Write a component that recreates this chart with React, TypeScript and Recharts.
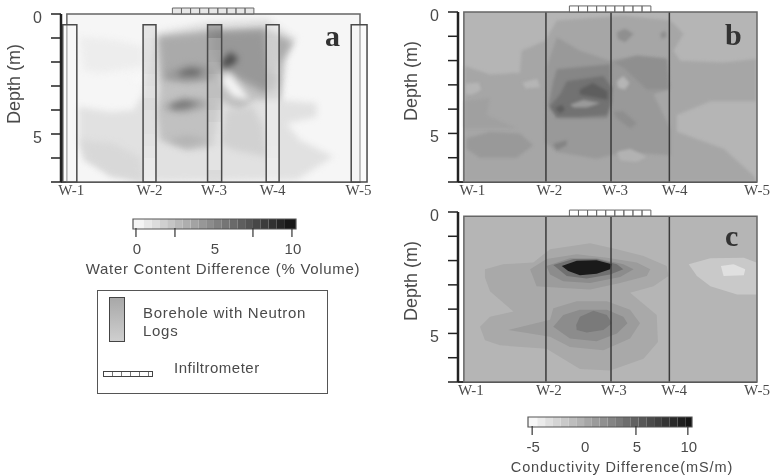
import React from "react";
import { ScatterChart, Scatter, XAxis, YAxis, ReferenceArea, ReferenceLine, Curve } from "recharts";

type Pt = [number, number];
type Contour = [number, Pt[]]; // level, ring of [x %, depth m]

const wellNames = ["W-1", "W-2", "W-3", "W-4", "W-5"];
const wellX = [28, 50.2, 70.1];
const depthTicks = [0, 1, 2, 3, 4, 5, 6, 7];
const depthLabels = [0, 5];
const infilEdges = [36, 39.1, 42.2, 45.3, 48.4, 51.5, 54.6, 57.7, 60.8, 63.8];

// neutron logs, panel a
const logDepths = [0.45, 1, 1.5, 2, 2.5, 3, 3.5, 4, 4.5, 5, 5.5, 6, 6.5, 7];
const logW1 = [0, 0, 0, 0, 0, 0, 0, 0, 0, 0, 0, 0, 0];
const logW2 = [1.6, 1.8, 1.9, 1.8, 1.4, 1.2, 1.6, 1.2, 1.2, 0.9, 0.6, 0.3, 0];
const logW3 = [6, 4, 3.4, 3, 2.6, 2.6, 2.2, 1.5, 1, 0.9, 0.8, 0.8, 1.6];
const logW4 = [0.5, 0.3, 0.3, 0.3, 0.4, 0.5, 0.4, 0.3, 0.3, 0.3, 0.2, 0, 0.2];
const logW5 = [0, 0, 0, 0, 0, 0, 0, 0, 0, 0, 0, 0, 0];
const wellLeft = [-1.4, 26, 48, 68, 97];
const wellRight = [3.4, 30.4, 52.8, 72.4, 102.4];

const contoursA: Contour[] = [
  [0.1, [[0, 0], [100, 0], [100, 7], [0, 7]]],
  [0.5, [[4.5, 0.94], [17, 1.08], [26.1, 1.36], [26.1, 2.19], [11.4, 2.47], [5.7, 2.33]]],
  [0, [[20.5, 2.68], [26.1, 2.54], [30.7, 2.75], [26.1, 2.89]]],
  [1, [[4, 3.86], [14.8, 4.07], [22.7, 4], [26.1, 3.31], [30.7, 0.74], [47.7, 0.32], [68.2, 0.18], [78.4, 1.01], [75, 1.92], [73.3, 3.58], [85.2, 3.72], [85.2, 4.28], [75, 4.56], [79.5, 5.25], [90.9, 5.94], [78.4, 6.92], [25, 7], [5.7, 6.08], [4, 5.25]]],
  [1.4, [[4.5, 5.25], [15.9, 5.39], [25, 5.97], [26.1, 7], [14.8, 6.78], [6.8, 6.08]]],
  [2.4, [[30.7, 0.94], [47.7, 0.67], [67, 0.53], [77.3, 1.15], [73.9, 1.92], [72.7, 3.58], [63.6, 3.58], [59.1, 4.14], [52.3, 3.58], [50, 5.53], [40.9, 5.67], [31.8, 5.25], [30.7, 4.14], [31.8, 3.17]]],
  [1.7, [[54.5, 4], [63.6, 3.86], [67, 4.69], [68.2, 5.94], [56.8, 5.67], [52.3, 5.39]]],
  [3.4, [[31.8, 1], [47.7, 0.81], [67, 0.67], [76.1, 1.22], [72.2, 2.06], [71.6, 3.17], [66.5, 3.31], [59.1, 2.75], [55.7, 2.33], [50, 2.47], [50, 2.75], [40.9, 2.82], [32.9, 2.75]]],
  [4.2, [[50, 0.81], [67, 0.74], [68.2, 2.19], [71.6, 2.75], [68.2, 3.17], [59.1, 2.61], [54.5, 2.19], [50, 1.78]]],
  [7.4, [[52.3, 2.06], [55.7, 1.57], [58.5, 1.85], [56.8, 2.13], [53.4, 2.26]]],
  [4.1, [[34.1, 2.4], [42, 2.06], [50, 2.19], [50, 2.68], [40.9, 2.82], [34.1, 2.68]]],
  [6.2, [[37.5, 2.47], [42, 2.26], [46.6, 2.36], [44.3, 2.58], [39.2, 2.58]]],
  [3.5, [[33, 3.79], [39.8, 3.44], [47.7, 3.58], [47.7, 3.92], [39.8, 4.14], [33.5, 4]]],
  [5.8, [[35.2, 3.79], [39.8, 3.63], [45.5, 3.72], [40.9, 3.92], [36.4, 3.97]]],
  [3, [[34.1, 5.25], [40.9, 5.04], [48.9, 5.25], [40.9, 5.53]]],
  [0.2, [[53.4, 2.54], [55.7, 2.54], [59.1, 3.03], [62.5, 3.58], [56.8, 3.44], [52.8, 2.89]]],
];

const contoursB: Contour[] = [
  [-0.6, [[0, 0], [100, 0], [100, 7], [0, 7]]],
  [0.4, [[0.3, 2.22], [8.9, 2.57], [19.1, 2.5], [19.7, 1.6], [27.7, 1.18], [31.7, 0.35], [54.4, 0.14], [70.4, 0.35], [74.9, 0.9], [71.5, 1.6], [73.8, 2.01], [88.6, 2.08], [99.8, 1.94], [99.8, 3.68], [84.1, 3.68], [72.7, 4.24], [72.7, 4.93], [88.6, 5.63], [98.9, 6.74], [99.8, 7], [0, 7]]],
  [-0.6, [[0.5, 2.95], [5, 2.9], [6, 3.2], [3, 3.4], [0.5, 3.4]]],
  [-0.6, [[20, 2.9], [25, 2.75], [26, 3.1], [21, 3.15]]],
  [0.8, [[0.3, 3.68], [8.9, 3.54], [7.7, 4.24], [18, 4.79], [0.3, 4.79]]],
  [1.25, [[0.9, 5.21], [8.9, 4.93], [19.1, 5], [23.7, 5.49], [18, 6], [5.5, 6], [0.9, 5.63]]],
  [1.25, [[28.2, 2.29], [31.7, 1.04], [39.6, 1.6], [49.9, 2.01], [59, 1.81], [69.2, 1.94], [70.4, 3.13], [64.7, 3.4], [70.4, 4.79], [70.4, 5.9], [54.4, 5.76], [45.3, 6.04], [31.7, 5.76], [27.7, 5.35]]],
  [1.9, [[51, 2.08], [59, 1.81], [69.2, 1.94], [69.8, 3.19], [62.4, 3.19], [54.4, 2.29]]],
  [2, [[51, 4.1], [54.4, 4.1], [59, 4.58], [56.7, 4.79], [52.2, 4.38]]],
  [2.5, [[31.7, 2.36], [49.9, 2.15], [50.5, 3.68], [48.8, 4.38], [31.7, 4.38], [28.9, 3.82], [30.5, 2.85]]],
  [3.8, [[35.1, 2.85], [47.6, 2.64], [50.5, 3.13], [49.9, 3.82], [48.8, 4.24], [39.6, 4.31], [31.7, 4.31], [29.2, 3.89], [32.8, 3.4]]],
  [5.1, [[39.6, 3.19], [44, 2.92], [49, 3.26], [49, 3.61], [39.6, 3.4]]],
  [5.2, [[31.1, 3.96], [33.4, 3.82], [34.5, 4.03], [32.8, 4.17]]],
  [1.2, [[36.2, 3.82], [40.8, 3.61], [46.5, 3.75], [42, 3.93], [37.5, 3.93]]],
  [1.9, [[52.2, 0.83], [55, 0.69], [57.9, 0.9], [55, 1.25], [52.6, 1.11]]],
  [1.9, [[67, 0.9], [68.7, 0.76], [69.2, 1.01], [67.5, 1.11]]],
  [-0.6, [[52.2, 2.85], [54.4, 2.64], [56.5, 2.92], [55, 3.19], [52.6, 3.13]]],
  [-0.4, [[52.2, 5.76], [56.7, 5.63], [62.4, 5.97], [59, 6.18], [53.3, 6.11]]],
  [2.6, [[30.5, 5.42], [35.1, 5.28], [35.1, 5.49], [31.7, 5.69]]],
];

const contoursC: Contour[] = [
  [-0.6, [[0, 0.17], [100, 0.17], [100, 7], [0, 7]]],
  [0.2, [[7.2, 2.36], [13.4, 2.15], [23.7, 2.08], [29.4, 1.53], [43.1, 1.29], [52.2, 1.53], [61.3, 1.81], [69.2, 2.22], [69.8, 2.64], [64.7, 3.06], [56.7, 3.33], [65.8, 4.24], [66.2, 5.35], [61.3, 6.04], [49.9, 6.53], [39.6, 6.46], [28.2, 5.63], [12.3, 5.49], [7.2, 5.28], [5.5, 4.72], [8.9, 4.31], [16.9, 4.1], [8.9, 3.26], [7.2, 2.71]]],
  [1.05, [[22.6, 2.36], [28.2, 1.94], [38.5, 1.74], [48.8, 1.88], [59, 2.08], [63.6, 2.36], [62.4, 2.64], [53.3, 2.92], [43.1, 3.19], [33.9, 3.13], [24.8, 3.06]]],
  [2.1, [[28.2, 2.22], [36.2, 1.9], [45.3, 1.9], [54.4, 2.15], [57.9, 2.36], [53.3, 2.68], [43.1, 2.92], [33.9, 2.85], [29.4, 2.57]]],
  [3.95, [[30.5, 2.18], [37.4, 1.94], [45.3, 1.94], [52.2, 2.15], [54.4, 2.36], [49.9, 2.57], [41.9, 2.74], [35.1, 2.64]]],
  [9.6, [[33.4, 2.22], [38.5, 2.01], [45.3, 1.99], [50.5, 2.15], [49.9, 2.36], [45.3, 2.54], [39.6, 2.6], [35.6, 2.43]]],
  [1.05, [[15.1, 4.86], [29.4, 4.44], [30.5, 3.96], [38.5, 3.68], [48.8, 3.68], [56.7, 4.03], [60.1, 4.58], [56.7, 5.21], [47.6, 5.69], [36.2, 5.56], [29.4, 5.14], [22.6, 5]]],
  [2.1, [[30.5, 4.72], [33.9, 4.24], [39.6, 4.03], [48.8, 4.03], [54.4, 4.31], [55.8, 4.58], [52.2, 5], [45.3, 5.32], [36.2, 5.21]]],
  [3.3, [[38.3, 4.65], [39.6, 4.31], [44.2, 4.07], [48.8, 4.24], [50.5, 4.58], [47.6, 4.86], [41.9, 4.96], [38.5, 4.86]]],
  [-1.9, [[76.7, 2.15], [84.1, 1.9], [95.5, 1.88], [99.8, 2.08], [99.8, 3.4], [93.2, 3.4], [84.1, 3.06], [79.5, 2.64]]],
  [-3.4, [[87.7, 2.22], [92, 2.15], [96, 2.36], [95.5, 2.6], [88.6, 2.64]]],
];

// tick label positions along the transect
const tickPosA = [1.5, 28.2, 50.2, 70.2, 99.5];
const tickPosB = [2.9, 29.2, 51.6, 71.9, 100];
const tickPosC = [2.4, 29, 51.2, 71.7, 100];

const waterBarEdges = [-0.19, 0.5, 1, 1.5, 2, 2.5, 3, 3.5, 4, 4.5, 5, 5.5, 6, 6.5, 7, 7.5, 8, 8.5, 9, 9.5, 10.26];
const condBarEdges = [-5.4, -4.5, -3.75, -3, -2.25, -1.5, -0.75, 0, 0.75, 1.5, 2.25, 3, 3.75, 4.5, 5.25, 6, 6.75, 7.5, 8.25, 9, 9.75, 10.4];

const INK = "#4a4a4a";
const SANS = "'Liberation Sans', Arial, sans-serif";
const SERIF = "'Liberation Serif', serif";

// grey ramps of the two colour bars
const grayWater = (v: number) => {
  const g = Math.round(Math.max(20, Math.min(255, 248 - 22.8 * v)));
  return `rgb(${g},${g},${g})`;
};
const grayCond = (v: number) => {
  const g = Math.round(Math.max(20, Math.min(255, 248 - 15.2 * (v + 5))));
  return `rgb(${g},${g},${g})`;
};

const ringLine = (fill: string, blur: number) => (p: any) => (
  <Curve points={p.points} type="linearClosed" fill={fill} stroke="none" style={blur ? { filter: `blur(${blur}px)` } : undefined} />
);

const noDot = () => <g />;

interface PanelProps {
  left: number;
  top: number;
  width: number;
  marginRight: number;
  axisWidth: number;
  plotTop: number;
  contours: Contour[];
  gray: (v: number) => string;
  blur: number;
  frameTop: number;
  tickPos: number[];
  infilFill: string;
  labelDy: number;
  children?: React.ReactNode;
}

const Panel = (props: PanelProps) => {
  const { left, top, width, marginRight, axisWidth, plotTop, contours, gray, blur, frameTop, tickPos, infilFill, labelDy } = props;
  return (
    <div style={{ position: "absolute", left, top }}>
      <ScatterChart width={width} height={210} margin={{ top: plotTop, right: marginRight, left: 0, bottom: 0 }}>
        <XAxis
          type="number"
          dataKey="x"
          domain={[-2, 100]}
          ticks={tickPos}
          interval={0}
          height={28}
          allowDataOverflow
          tickFormatter={(_v: number, i: number) => wellNames[i]}
          axisLine={{ stroke: "#333", strokeWidth: 2 }}
          tickLine={false}
          tickMargin={-4}
          tick={{ fontFamily: SERIF, fontSize: 15, fill: INK }}
        />
        <YAxis
          type="number"
          dataKey="y"
          reversed
          domain={[0, 7]}
          ticks={depthTicks}
          interval={0}
          width={axisWidth}
          allowDataOverflow
          tickFormatter={(v: number) => (depthLabels.includes(v) ? String(v) : "")}
          axisLine={{ stroke: "#222", strokeWidth: 2.5 }}
          tickLine={{ stroke: "#222", strokeWidth: 1.5 }}
          tickSize={10}
          tickMargin={9}
          tick={{ fontFamily: SANS, fontSize: 16, fill: INK, dy: 3 }}
          label={{ value: "Depth (m)", angle: -90, position: "insideLeft", offset: axisWidth - 47, dy: labelDy, style: { fontFamily: SANS, fontSize: 18, fill: INK } }}
        />
        {contours.map(([level, ring], i) => (
          <Scatter
            key={i}
            data={ring.map(([x, y]) => ({ x, y }))}
            isAnimationActive={false}
            shape={noDot}
            line={ringLine(gray(level), i === 0 ? 0 : blur)}
          />
        ))}
        {props.children}
        <ReferenceArea x1={0} x2={100} y1={frameTop} y2={7} fill="none" stroke="#666" strokeWidth={1.5} ifOverflow="visible" zIndex={800} />
        {infilEdges.slice(0, -1).map((e, i) => (
          <ReferenceArea
            key={e}
            x1={e}
            x2={infilEdges[i + 1]}
            y1={frameTop - 0.25}
            y2={frameTop}
            fill={infilFill}
            stroke="#666"
            strokeWidth={1}
            ifOverflow="visible"
            zIndex={810}
          />
        ))}
      </ScatterChart>
    </div>
  );
};

const wellLines = (frameTop: number) =>
  wellX.map((x) => (
    <ReferenceLine
      key={x}
      segment={[{ x, y: frameTop }, { x, y: 7 }]}
      stroke="#3a3a3a"
      strokeWidth={1.5}
      ifOverflow="visible"
      zIndex={790}
    />
  ));

const logs = [logW1, logW2, logW3, logW4, logW5];
const wellBoxes = logs.flatMap((log, w) => [
  ...log.map((v, i) => (
    <ReferenceArea
      key={`${w}-${i}`}
      x1={wellLeft[w]}
      x2={wellRight[w]}
      y1={logDepths[i]}
      y2={logDepths[i + 1]}
      fill={grayWater(v)}
      stroke="none"
      ifOverflow="visible"
      zIndex={820}
    />
  )),
  <ReferenceArea
    key={`box-${w}`}
    x1={wellLeft[w]}
    x2={wellRight[w]}
    y1={logDepths[0]}
    y2={7}
    fill="none"
    stroke="#4a4a4a"
    strokeWidth={1.5}
    ifOverflow="visible"
    zIndex={830}
  />,
]);

interface BarProps {
  left: number;
  top: number;
  width: number;
  edges: number[];
  gray: (v: number) => string;
  ticks: number[];
  marks: number[];
  labels: number[];
}

const ColorBar = ({ left, top, width, edges, gray, ticks, marks, labels }: BarProps) => {
  const tickShape = (p: any) => {
    const v = p.payload.value;
    return (
      <g>
        {marks.includes(v) && <line x1={p.x} x2={p.x} y1={p.y - 9} y2={p.y} stroke="#333" strokeWidth={1.2} />}
        {labels.includes(v) && (
          <text x={p.x + 1} y={p.y + 17} textAnchor="middle" fontFamily={SANS} fontSize={15} fill={INK}>
            {v}
          </text>
        )}
      </g>
    );
  };
  const lo = edges[0];
  const hi = edges[edges.length - 1];
  return (
    <div style={{ position: "absolute", left, top }}>
      <ScatterChart width={width + 40} height={62} margin={{ top: 2, right: 20, left: 20, bottom: 0 }}>
        <XAxis
          type="number"
          dataKey="x"
          domain={[lo, hi]}
          ticks={ticks}
          interval={0}
          height={50}
          allowDataOverflow
          axisLine={false}
          tickLine={false}
          tick={tickShape}
        />
        <YAxis type="number" dataKey="y" hide domain={[0, 1]} />
        {edges.slice(0, -1).map((e, i) => (
          <Scatter
            key={e}
            data={[{ x: e, y: 0 }, { x: edges[i + 1], y: 0 }, { x: edges[i + 1], y: 1 }, { x: e, y: 1 }]}
            isAnimationActive={false}
            shape={noDot}
            line={ringLine(gray((e + edges[i + 1]) / 2), 0)}
          />
        ))}
        <ReferenceArea x1={lo} x2={hi} y1={0} y2={1} fill="none" stroke="#555" strokeWidth={1.2} zIndex={800} />
      </ScatterChart>
    </div>
  );
};

const abs = (left: number, top: number, extra: React.CSSProperties = {}): React.CSSProperties => ({
  position: "absolute",
  left,
  top,
  whiteSpace: "nowrap",
  ...extra,
});

const panelLetter = (font: number): React.CSSProperties => ({ fontFamily: SERIF, fontWeight: "bold", fontSize: font, color: "#333", lineHeight: 1 });

const barTitle = (font: number, spacing: number): React.CSSProperties => ({
  fontFamily: SANS,
  fontSize: font,
  letterSpacing: spacing,
  color: INK,
  transform: "translateX(-50%)",
  lineHeight: 1,
});

export default function App() {
  return (
    <div style={{ position: "absolute", left: 0, top: 0, width: 774, height: 476, background: "#fff", overflow: "hidden", filter: "blur(0.4px)" }}>
      <Panel left={0} top={0} width={390} marginRight={30} axisWidth={61} plotTop={14} contours={contoursA} gray={grayWater} blur={3} frameTop={0} tickPos={tickPosA} infilFill="#cfcfcf" labelDy={26}>
        {wellBoxes}
      </Panel>
      <Panel left={390} top={0} width={384} marginRight={17} axisWidth={68} plotTop={12} contours={contoursB} gray={grayCond} blur={1.4} frameTop={0} tickPos={tickPosB} infilFill="#fff" labelDy={24}>
        {wellLines(0)}
      </Panel>
      <Panel left={390} top={200} width={384} marginRight={17} axisWidth={68} plotTop={12} contours={contoursC} gray={grayCond} blur={0.6} frameTop={0.17} tickPos={tickPosC} infilFill="#fff" labelDy={24}>
        {wellLines(0.17)}
      </Panel>

      <div style={abs(325, 21, panelLetter(30))}>a</div>
      <div style={abs(725, 20, panelLetter(30))}>b</div>
      <div style={abs(725, 221, panelLetter(30))}>c</div>

      <ColorBar left={113} top={217} width={163} edges={waterBarEdges} gray={grayWater} ticks={[0, 2.5, 5, 7.5, 10]} marks={[0, 2.5, 7.5, 10]} labels={[0, 5, 10]} />
      <div style={abs(223, 261, barTitle(15, 0.7))}>Water Content Difference (% Volume)</div>
      <ColorBar left={508} top={415} width={164} edges={condBarEdges} gray={grayCond} ticks={[-5, 0, 5, 10]} marks={[-5, 5, 10]} labels={[-5, 0, 5, 10]} />
      <div style={abs(622, 460, barTitle(14.5, 0.9))}>Conductivity Difference(mS/m)</div>

      <div style={abs(97, 290, { width: 231, height: 104, border: "1.5px solid #555", boxSizing: "border-box" })} />
      <div style={abs(109, 297, { width: 16, height: 45, border: "1.5px solid #444", boxSizing: "border-box", background: "linear-gradient(#a8a8a8,#cfcfcf)" })} />
      <div style={abs(143, 304, { fontFamily: SANS, fontSize: 15, letterSpacing: 0.7, color: INK, lineHeight: "18px" })}>
        Borehole with Neutron
        <br />
        Logs
      </div>
      <div style={abs(174, 360, { fontFamily: SANS, fontSize: 15, letterSpacing: 0.5, color: INK, lineHeight: "16px" })}>Infiltrometer</div>
      <div style={abs(103, 371, { width: 50, height: 6, border: "1.5px solid #444", boxSizing: "border-box", background: "repeating-linear-gradient(90deg,#fff 0 8px,#777 8px 9px)" })} />
    </div>
  );
}
